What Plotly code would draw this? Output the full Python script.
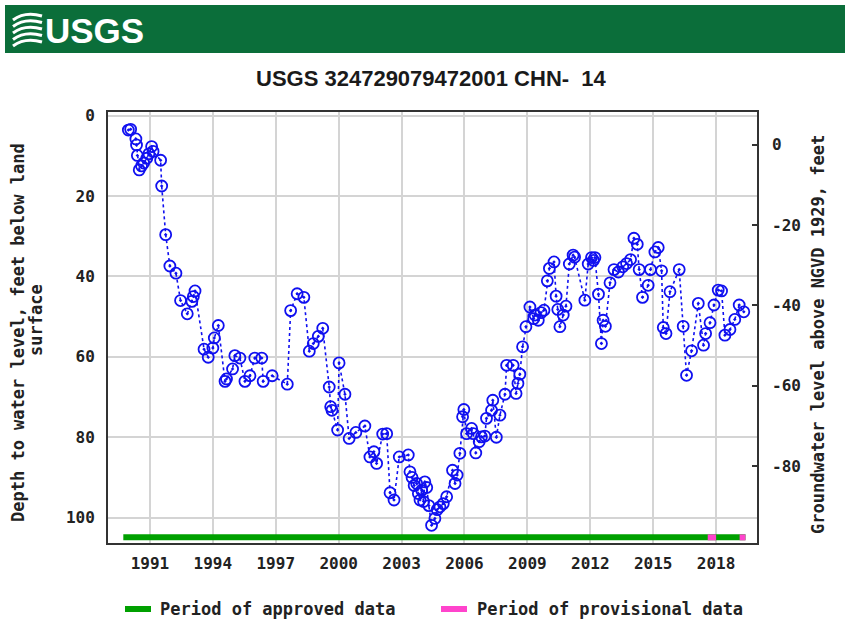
import plotly.graph_objects as go

# ---- measurement data: decimal year and depth to water (ft below land surface)
years = [
    1989.97, 1990.08, 1990.33, 1990.36, 1990.40, 1990.49, 1990.60, 1990.70, 1990.85, 1990.95,
    1991.08, 1991.15, 1991.51, 1991.56, 1991.75, 1991.95, 1992.24, 1992.46, 1992.78, 1993.00,
    1993.07, 1993.15, 1993.58, 1993.78, 1994.00, 1994.07, 1994.26, 1994.58, 1994.65, 1994.94,
    1995.05, 1995.29, 1995.53, 1995.77, 1996.00, 1996.33, 1996.40, 1996.83, 1997.55, 1997.71,
    1998.02, 1998.34, 1998.60, 1998.79, 1999.03, 1999.24, 1999.55, 1999.62, 1999.68, 1999.95,
    2000.02, 2000.30, 2000.50, 2000.82, 2001.25, 2001.49, 2001.68, 2001.81, 2002.10, 2002.29,
    2002.45, 2002.64, 2002.89, 2003.32, 2003.40, 2003.50, 2003.60, 2003.72, 2003.80, 2003.88,
    2003.96, 2004.05, 2004.11, 2004.20, 2004.30, 2004.43, 2004.59, 2004.70, 2004.83, 2004.99,
    2005.15, 2005.43, 2005.55, 2005.65, 2005.78, 2005.91, 2005.97, 2006.10, 2006.34, 2006.42,
    2006.54, 2006.70, 2006.81, 2006.97, 2007.05, 2007.29, 2007.35, 2007.52, 2007.69, 2007.93,
    2008.01, 2008.32, 2008.46, 2008.55, 2008.64, 2008.77, 2008.93, 2009.12, 2009.30, 2009.36,
    2009.52, 2009.65, 2009.79, 2009.95, 2010.05, 2010.27, 2010.37, 2010.45, 2010.55, 2010.71,
    2010.84, 2011.00, 2011.18, 2011.25, 2011.74, 2011.90, 2012.06, 2012.15, 2012.22, 2012.39,
    2012.53, 2012.61, 2012.72, 2012.94, 2013.13, 2013.34, 2013.55, 2013.73, 2013.92, 2014.08,
    2014.24, 2014.33, 2014.49, 2014.76, 2014.87, 2015.08, 2015.24, 2015.40, 2015.48, 2015.61,
    2015.80, 2016.24, 2016.43, 2016.59, 2016.83, 2017.15, 2017.40, 2017.50, 2017.71, 2017.90,
    2018.10, 2018.26, 2018.42, 2018.66, 2018.89, 2019.10, 2019.32,
]
depth = [
    3.6, 3.4, 5.8, 7.3, 9.9, 13.5, 12.5, 11.8, 10.6, 9.5,
    7.7, 8.9, 11.1, 17.5, 29.6, 37.4, 39.2, 46.0, 49.3, 46.2,
    45.0, 43.6, 58.1, 60.1, 57.8, 55.3, 52.2, 66.1, 65.5, 63.0,
    59.7, 60.3, 66.1, 64.7, 60.3, 60.3, 66.1, 64.7, 66.8, 48.5,
    44.3, 45.2, 58.6, 56.7, 54.9, 52.9, 67.5, 72.4, 73.3, 78.2,
    61.5, 69.3, 80.3, 78.8, 77.2, 84.9, 83.6, 86.5, 79.2, 79.1,
    93.8, 95.6, 84.9, 84.4, 88.6, 90.0, 92.0, 91.5, 94.0, 95.6,
    93.2, 96.0, 91.1, 92.5, 97.0, 101.9, 100.2, 98.0, 97.3, 96.5,
    94.8, 88.2, 91.5, 89.4, 84.0, 74.9, 73.1, 79.1, 77.8, 79.1,
    83.9, 81.1, 79.9, 79.7, 75.3, 73.3, 70.8, 80.0, 74.5, 69.3,
    62.1, 62.1, 69.1, 66.6, 64.3, 57.5, 52.5, 47.6, 50.5, 49.6,
    50.9, 49.0, 48.4, 41.1, 38.0, 36.4, 44.9, 48.2, 52.5, 49.6,
    47.4, 36.9, 34.7, 35.2, 45.9, 36.9, 35.3, 36.0, 35.3, 44.4,
    56.7, 50.9, 52.4, 41.6, 38.3, 38.9, 37.6, 36.8, 35.8, 30.5,
    32.0, 38.3, 45.2, 42.2, 38.3, 33.9, 32.8, 38.6, 52.7, 54.2,
    43.8, 38.3, 52.4, 64.6, 58.5, 46.7, 57.1, 54.2, 51.5, 47.1,
    43.4, 43.6, 54.6, 53.2, 50.7, 47.1, 48.8,
]

# ---- data-status periods (decimal years)
approved_periods = [(1989.73, 2019.40)]
provisional_periods = [(2017.60, 2018.00), (2019.12, 2019.40)]

# ---- axes
year_ticks = [1991, 1994, 1997, 2000, 2003, 2006, 2009, 2012, 2015, 2018]
depth_ticks = [0, 20, 40, 60, 80, 100]
elev_ticks = [0, -20, -40, -60, -80]
land_surface_elev = 7.2          # ft above NGVD 1929
x_range = [1989.0, 2019.95]
depth_range = [106.3, -0.9]      # reversed: depth increases downward
status_bar_depth = 104.9

title_text = "USGS 324729079472001 CHN-  14"
left_title = ["Depth to water level, feet below land", "surface"]
right_title = "Groundwater level above NGVD 1929, feet"
legend_labels = ["Period of approved data", "Period of provisional data"]

BLUE = "#1010f0"
GREEN = "#00a000"
PINK = "#ff44cc"
HEADER_GREEN = "#0b6e3a"
MONO = "DejaVu Sans Mono"
NARROW = "Liberation Sans Narrow, Arial Narrow, Liberation Sans, sans-serif"

W, H = 845, 624
L, R, T, B = 108, 757, 112, 543


def px(x):
    return (x - L) / (R - L)


def py(y):
    return (B - y) / (B - T)


fig = go.Figure()

fig.add_trace(go.Scatter(
    x=years, y=depth, mode="lines+markers",
    line=dict(color=BLUE, width=1.6, dash="dot"),
    marker=dict(symbol="circle-open-dot", size=11, color=BLUE,
                line=dict(color=BLUE, width=1.8)),
    showlegend=False, hoverinfo="x+y",
))

for a0, a1 in approved_periods:
    fig.add_trace(go.Scatter(
        x=[a0, a1], y=[status_bar_depth, status_bar_depth], mode="lines",
        line=dict(color=GREEN, width=6), showlegend=False, hoverinfo="skip"))
for p0, p1 in provisional_periods:
    fig.add_trace(go.Scatter(
        x=[p0, p1], y=[status_bar_depth, status_bar_depth], mode="lines",
        line=dict(color=PINK, width=6), showlegend=False, hoverinfo="skip"))

# invisible trace to activate the elevation axis
fig.add_trace(go.Scatter(
    x=[years[0]], y=[land_surface_elev - depth[0]], yaxis="y2",
    mode="markers", marker=dict(opacity=0), showlegend=False, hoverinfo="skip"))

grid = "#d4d4d4"
tick_font = dict(family=MONO, size=16, color="#222", weight="bold")
fig.update_layout(
    width=W, height=H,
    margin=dict(l=L, r=W - R, t=T, b=H - B),
    paper_bgcolor="white", plot_bgcolor="white",
    font=dict(family=MONO, size=16, color="#222"),
    xaxis=dict(
        range=x_range, tickmode="array", tickvals=year_ticks,
        ticktext=[str(v) for v in year_ticks],
        showgrid=True, gridcolor=grid, gridwidth=1.5, zeroline=False,
        showline=True, mirror=True, linecolor="#333", linewidth=2,
        ticks="", ticklabelstandoff=5, tickfont=tick_font,
    ),
    yaxis=dict(
        range=depth_range, tickmode="array", tickvals=depth_ticks,
        ticktext=[str(v) for v in depth_ticks],
        showgrid=True, gridcolor=grid, gridwidth=1.5, zeroline=False,
        showline=True, mirror=True, linecolor="#333", linewidth=2,
        ticks="", ticklabelstandoff=8, tickfont=tick_font,
    ),
    yaxis2=dict(
        overlaying="y", side="right",
        range=[land_surface_elev - depth_range[0], land_surface_elev - depth_range[1]],
        tickmode="array", tickvals=elev_ticks, ticktext=[str(v) for v in elev_ticks],
        showgrid=False, zeroline=False, showline=False,
        ticks="inside", ticklen=5, tickwidth=1.5, tickcolor="#333",
        ticklabelstandoff=14, tickfont=tick_font,
    ),
)

shapes = []
annotations = []

# header band with agency mark
shapes.append(dict(type="rect", xref="paper", yref="paper",
                   x0=px(5), x1=px(845), y0=py(53), y1=py(5),
                   fillcolor=HEADER_GREEN, line=dict(width=0), layer="above"))
for i in range(5):
    y_off = 14 + i * 6.5
    shapes.append(dict(
        type="path", xref="paper", yref="paper",
        path=(f"M {px(13)},{py(y_off + 6)} Q {px(25)},{py(y_off - 3)} "
              f"{px(42)},{py(y_off + 2)}"),
        line=dict(color="white", width=3), layer="above"))
annotations.append(dict(
    xref="paper", yref="paper", x=px(43), y=py(30), xanchor="left", yanchor="middle",
    text="<b>USGS</b>", showarrow=False,
    font=dict(family=NARROW, size=35, color="white")))

# chart title
annotations.append(dict(
    xref="paper", yref="paper", x=px(431), y=py(78), xanchor="center", yanchor="middle",
    text=f"<b>{title_text}</b>", showarrow=False,
    font=dict(family=NARROW, size=22, color="#1a1a1a")))

# axis titles
axis_title_font = dict(family=MONO, size=17, color="#222")
annotations.append(dict(
    xref="paper", yref="paper", x=px(18), y=py(333), xanchor="center", yanchor="middle",
    text=f"<b>{left_title[0]}</b>", textangle=-90, showarrow=False,
    font=axis_title_font))
annotations.append(dict(
    xref="paper", yref="paper", x=px(36), y=py(320), xanchor="center", yanchor="middle",
    text=f"<b>{left_title[1]}</b>", textangle=-90, showarrow=False,
    font=axis_title_font))
annotations.append(dict(
    xref="paper", yref="paper", x=px(818), y=py(335), xanchor="center", yanchor="middle",
    text=f"<b>{right_title}</b>", textangle=-90, showarrow=False,
    font=axis_title_font))

# legend
legend_items = [(GREEN, 125, 151, 158, legend_labels[0]),
                (PINK, 441, 467, 475, legend_labels[1])]
for color, s0, s1, tx, label in legend_items:
    shapes.append(dict(type="line", xref="paper", yref="paper",
                       x0=px(s0), x1=px(s1), y0=py(609), y1=py(609),
                       line=dict(color=color, width=6)))
    annotations.append(dict(
        xref="paper", yref="paper", x=px(tx), y=py(609), xanchor="left", yanchor="middle",
        text=f"<b>{label}</b>", showarrow=False,
        font=dict(family=MONO, size=17, color="#222")))

fig.update_layout(shapes=shapes, annotations=annotations)
fig.write_html("out.html")
